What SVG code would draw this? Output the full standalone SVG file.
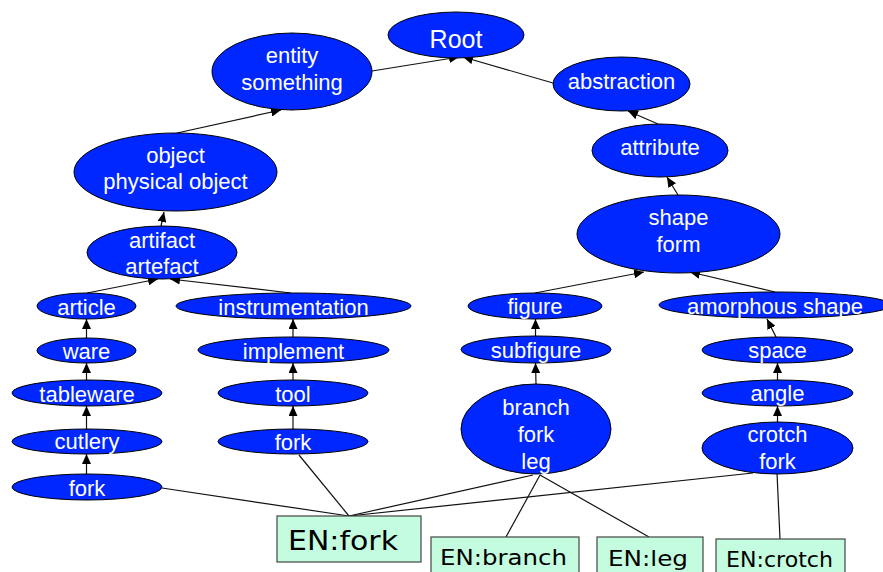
<svg xmlns="http://www.w3.org/2000/svg" width="883" height="572" viewBox="0 0 883 572">
<style>
.n ellipse{fill:#0027ff;stroke:#000;stroke-width:1}
.n text{fill:#fff;font-family:"Liberation Sans",Arial,sans-serif;font-size:22px;text-anchor:middle}
.b rect{fill:#c4fcdf;stroke:#444;stroke-width:1.2}
.b text{fill:#000;font-family:"DejaVu Sans",Verdana,sans-serif;font-size:22px}
.c path{fill:none;stroke:#111;stroke-width:1.2}
.c .a{marker-end:url(#ah)}
</style>
<defs>
<marker id="ah" markerUnits="userSpaceOnUse" markerWidth="10" markerHeight="9" refX="10" refY="4.5" orient="auto">
<path d="M0,0 L10,4.5 L0,9 z" fill="#000"/>
</marker>
</defs>
<rect width="883" height="572" fill="#fff"/>
<g class="c" id="connectors">
<path class="a" d="M372,71 L459,57"/>
<path class="a" d="M553,83 L463,57"/>
<path class="a" d="M177,133 L281,110"/>
<path class="a" d="M161,226 L164,212"/>
<path class="a" d="M87,293 L158,279"/>
<path class="a" d="M291,293 L170,279"/>
<path class="a" d="M86.5,338 L86.5,319"/>
<path class="a" d="M86.5,380 L86.5,363"/>
<path class="a" d="M86.5,429 L86.5,406"/>
<path class="a" d="M86.5,474 L86.5,454"/>
<path class="a" d="M293,337 L293,319"/>
<path class="a" d="M293,380 L293,363"/>
<path class="a" d="M293,429 L293,406"/>
<path class="a" d="M535,293 L644,272"/>
<path class="a" d="M775,292 L690,272"/>
<path class="a" d="M535.5,336 L535.5,319"/>
<path class="a" d="M536,384 L535.5,363"/>
<path class="a" d="M776,337 L767,319"/>
<path class="a" d="M777.5,380 L777.5,363"/>
<path class="a" d="M777.5,422 L777.5,406"/>
<path class="a" d="M658,124 L628,111"/>
<path class="a" d="M678,195 L667,177"/>
<path d="M162,488 L349,516"/>
<path d="M299,455 L349,516"/>
<path d="M533,475 L349,516"/>
<path d="M753,473 L349,516"/>
<path d="M540,475 L506,537"/>
<path d="M540,475 L649,537"/>
<path d="M777,473 L780,539"/>
</g>
<g class="n" id="root"><ellipse cx="456" cy="35" rx="68" ry="23"/><text x="456" y="48" style="font-size:25px">Root</text></g>
<g class="n" id="entity"><ellipse cx="292" cy="71.5" rx="80" ry="38.5"/><text x="292" y="63">entity</text><text x="292" y="90">something</text></g>
<g class="n" id="object"><ellipse cx="175.5" cy="172" rx="101.5" ry="39"/><text x="175.5" y="163">object</text><text x="175.5" y="189">physical object</text></g>
<g class="n" id="artifact"><ellipse cx="162" cy="252.5" rx="75" ry="26.5"/><text x="162" y="248">artifact</text><text x="162" y="274">artefact</text></g>
<g class="n" id="article"><ellipse cx="86.5" cy="306" rx="49.5" ry="13"/><text x="86.5" y="315">article</text></g>
<g class="n" id="ware"><ellipse cx="86.5" cy="350.5" rx="49.5" ry="12.5"/><text x="86.5" y="359">ware</text></g>
<g class="n" id="tableware"><ellipse cx="87" cy="393" rx="75" ry="13"/><text x="87" y="402">tableware</text></g>
<g class="n" id="cutlery"><ellipse cx="87" cy="441.5" rx="75" ry="12.5"/><text x="87" y="449">cutlery</text></g>
<g class="n" id="fork-cutlery"><ellipse cx="87" cy="487" rx="75" ry="13"/><text x="87" y="496">fork</text></g>
<g class="n" id="instrumentation"><ellipse cx="293.5" cy="306" rx="117.5" ry="13"/><text x="293.5" y="315">instrumentation</text></g>
<g class="n" id="implement"><ellipse cx="293.5" cy="350" rx="95.5" ry="13"/><text x="293.5" y="359">implement</text></g>
<g class="n" id="tool"><ellipse cx="293" cy="393" rx="75" ry="13"/><text x="293" y="402">tool</text></g>
<g class="n" id="fork-tool"><ellipse cx="293" cy="441.5" rx="75" ry="12.5"/><text x="293" y="450">fork</text></g>
<g class="n" id="abstraction"><ellipse cx="621.5" cy="84" rx="68.5" ry="27"/><text x="621.5" y="89">abstraction</text></g>
<g class="n" id="attribute"><ellipse cx="660" cy="150.5" rx="68" ry="26.5"/><text x="660" y="155">attribute</text></g>
<g class="n" id="shape"><ellipse cx="678.5" cy="234" rx="101.5" ry="39"/><text x="678.5" y="225">shape</text><text x="678.5" y="252">form</text></g>
<g class="n" id="figure"><ellipse cx="535" cy="306" rx="67" ry="13"/><text x="535" y="314">figure</text></g>
<g class="n" id="subfigure"><ellipse cx="536" cy="349.5" rx="75" ry="13.5"/><text x="536" y="358">subfigure</text></g>
<g class="n" id="branch"><ellipse cx="536" cy="429" rx="75" ry="45"/><text x="536" y="415">branch</text><text x="536" y="442">fork</text><text x="536" y="469">leg</text></g>
<g class="n" id="amorphous"><ellipse cx="775" cy="305" rx="116" ry="13"/><text x="775" y="314">amorphous shape</text></g>
<g class="n" id="space"><ellipse cx="777.5" cy="350" rx="75.5" ry="13"/><text x="777.5" y="358">space</text></g>
<g class="n" id="angle"><ellipse cx="777.5" cy="393" rx="75.5" ry="13"/><text x="777.5" y="401">angle</text></g>
<g class="n" id="crotch"><ellipse cx="777.5" cy="448" rx="75.5" ry="26"/><text x="777.5" y="442">crotch</text><text x="777.5" y="469">fork</text></g>
<g class="b" id="en-fork"><rect x="277" y="516" width="144" height="46"/><text x="288" y="550" style="font-size:27px" textLength="110" lengthAdjust="spacingAndGlyphs">EN:fork</text></g>
<g class="b" id="en-branch"><rect x="431" y="537" width="148" height="45"/><text x="440" y="565" textLength="127" lengthAdjust="spacingAndGlyphs">EN:branch</text></g>
<g class="b" id="en-leg"><rect x="597" y="537" width="106" height="45"/><text x="608" y="566" textLength="80" lengthAdjust="spacingAndGlyphs">EN:leg</text></g>
<g class="b" id="en-crotch"><rect x="716" y="539" width="129" height="45"/><text x="726" y="567" textLength="107" lengthAdjust="spacingAndGlyphs">EN:crotch</text></g>
</svg>
